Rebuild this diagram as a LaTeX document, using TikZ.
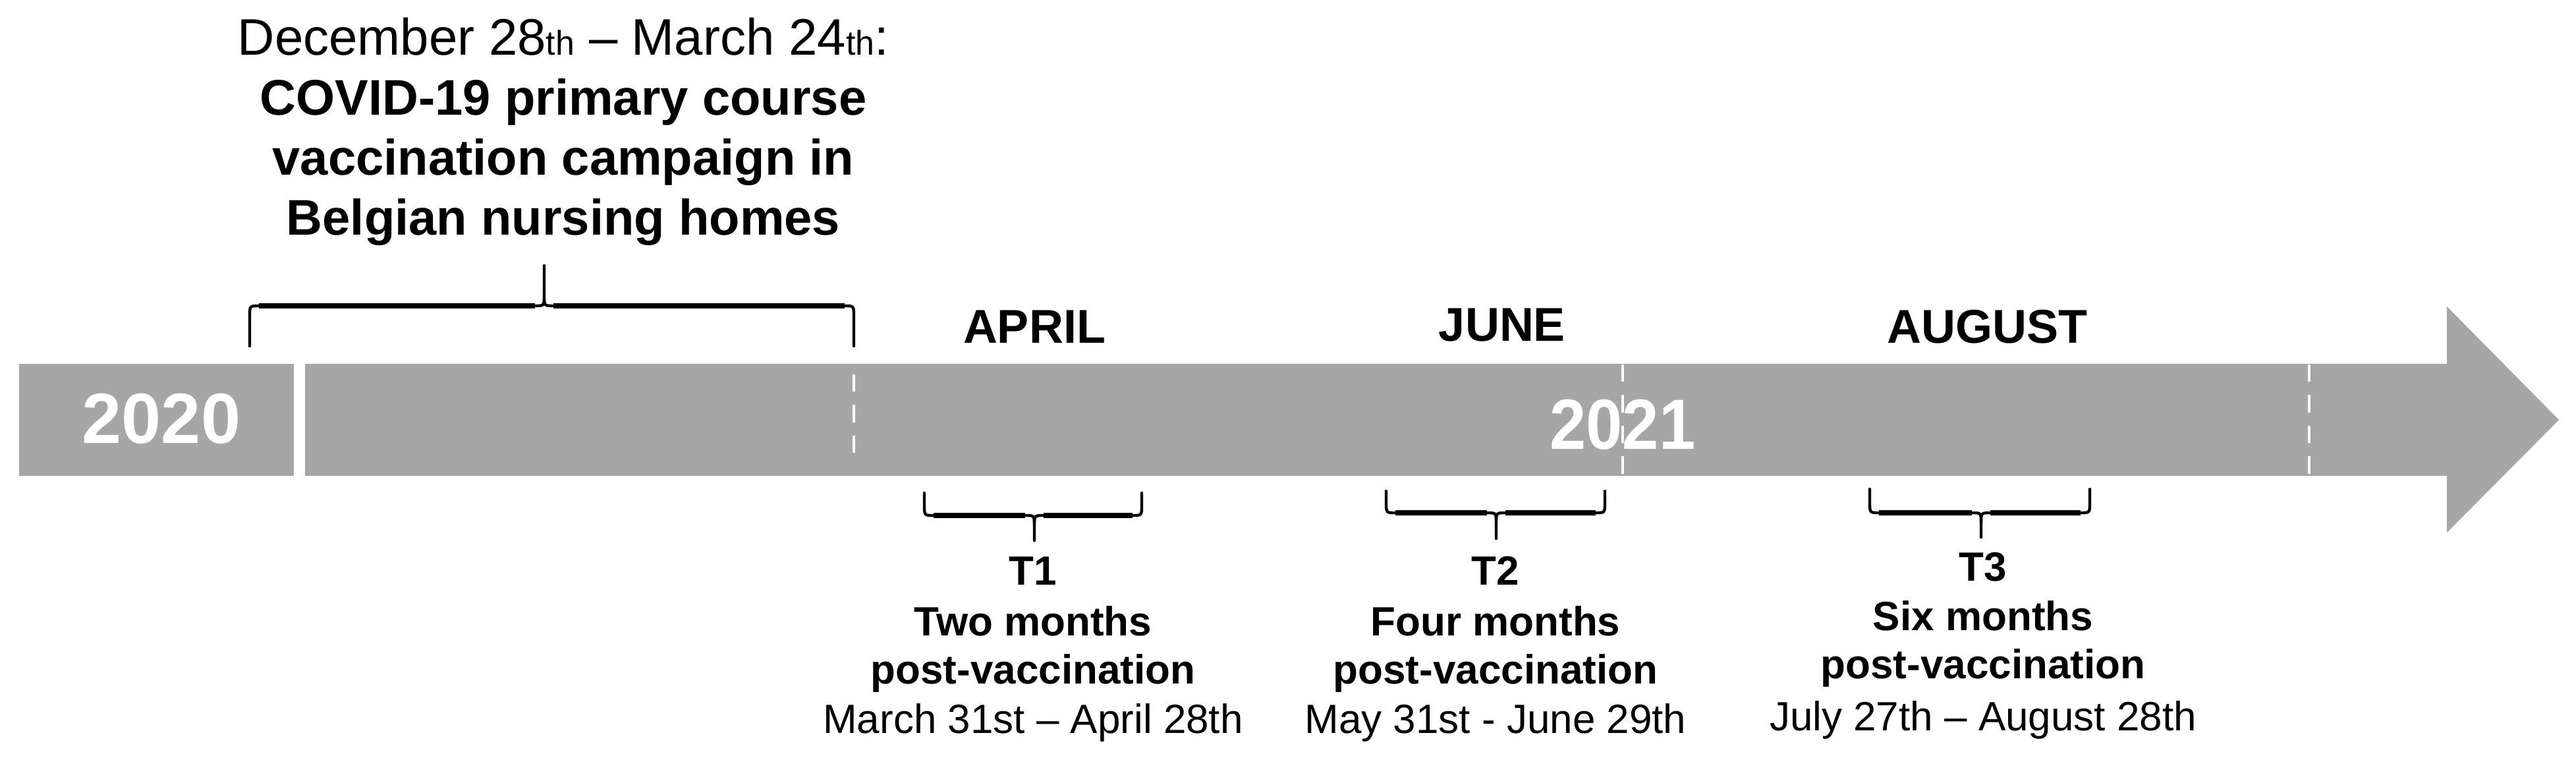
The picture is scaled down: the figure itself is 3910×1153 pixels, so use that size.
\documentclass[tikz,border=0pt]{standalone}
\usepackage{fontspec}
\usepackage{graphicx}
\setmainfont{Liberation Sans}
\definecolor{bargray}{RGB}{166,166,166}
\newcommand\mybrace[7]{%
  \draw[bracearm] (#1,#4) -- (#1,{#5-#7*16}) .. controls (#1,#5) .. ({#1+14},#5) -- ({#3-14},#5) .. controls (#3,#5) .. (#3,{#5+#7*16}) -- (#3,#6);
  \draw[bracearm] (#2,#4) -- (#2,{#5-#7*16}) .. controls (#2,#5) .. ({#2-14},#5) -- ({#3+14},#5) .. controls (#3,#5) .. (#3,{#5+#7*16});
  \draw[braceline] ({#1+14},#5) -- ({#3-14},#5) ({#3+14},#5) -- ({#2-14},#5);}
\begin{document}
\begin{tikzpicture}[x=0.25pt,y=-0.25pt,
  every node/.style={inner sep=0pt,outer sep=0pt,anchor=base},
  headdate/.style={font=\fontsize{19.5}{20}\selectfont},
  headbold/.style={font=\fontsize{19}{20}\selectfont\bfseries},
  monthlbl/.style={font=\fontsize{18}{18}\selectfont\bfseries},
  yearlbl/.style={font=\fontsize{27}{27}\selectfont\bfseries,text=white},
  tlabel/.style={font=\fontsize{15.5}{16}\selectfont\bfseries},
  dlabel/.style={font=\fontsize{15.5}{16}\selectfont},
  bar/.style={fill=bargray},
  tick/.style={draw=white,line width=1pt,dash pattern=on 6.6pt off 5pt},
  bracearm/.style={line width=1.1pt,line cap=round,line join=round},
  braceline/.style={line width=2pt},
  ]
\useasboundingbox[fill=white] (0,0) rectangle (3910,1153);

% timeline bar
\fill[bar] (29,552) rectangle (446,722);
\fill[bar] (463,552) -- (3714,552) -- (3714,465) -- (3884,637) -- (3714,808) -- (3714,722) -- (463,722) -- cycle;

% year labels
\node[yearlbl] (y2020) at (245,673) {2020};
\node[yearlbl] (y2021) at (2463,682) {\scalebox{0.92}[1]{2021}};

% month separators
\draw[tick] (1296,568) -- (1296,690);
\draw[tick] (2463,553) -- (2463,720);
\draw[tick] (3505,553) -- (3505,720);

% heading
\newcommand\thsmall{{\fontsize{13}{13}\selectfont th}}
\node[headdate] (h1) at (855,84) {December 28\thsmall{} – March 24\thsmall:};
\node[headbold] (h2) at (855,175) {COVID-19 primary course};
\node[headbold] (h3) at (855,266) {vaccination campaign in};
\node[headbold] (h4) at (855,357) {Belgian nursing homes};

% upper brace
\mybrace{379}{1296}{826}{525}{464}{403}{-1}

% months
\node[monthlbl] (apr) at (1570,521) {APRIL};
\node[monthlbl] (jun) at (2280,518) {JUNE};
\node[monthlbl] (aug) at (3016,521) {AUGUST};

% lower braces
\mybrace{1403}{1733}{1570}{748}{782}{820}{1}
\mybrace{2104}{2436}{2271}{745}{778}{817}{1}
\mybrace{2838}{3172}{3007}{742}{778}{815}{1}

% T1
\node[tlabel] (t1) at (1568,888) {T1};
\node[tlabel] (t1a) at (1568,965) {Two months};
\node[tlabel] (t1b) at (1568,1038) {post-vaccination};
\node[dlabel] (t1c) at (1568,1113) {March 31st – April 28th};
% T2
\node[tlabel] (t2) at (2270,888) {T2};
\node[tlabel] (t2a) at (2270,965) {Four months};
\node[tlabel] (t2b) at (2270,1038) {post-vaccination};
\node[dlabel] (t2c) at (2270,1113) {May 31st - June 29th};
% T3
\node[tlabel] (t3) at (3010,882) {T3};
\node[tlabel] (t3a) at (3010,957) {Six months};
\node[tlabel] (t3b) at (3010,1030) {post-vaccination};
\node[dlabel] (t3c) at (3010,1108) {July 27th – August 28th};
\end{tikzpicture}
\end{document}
